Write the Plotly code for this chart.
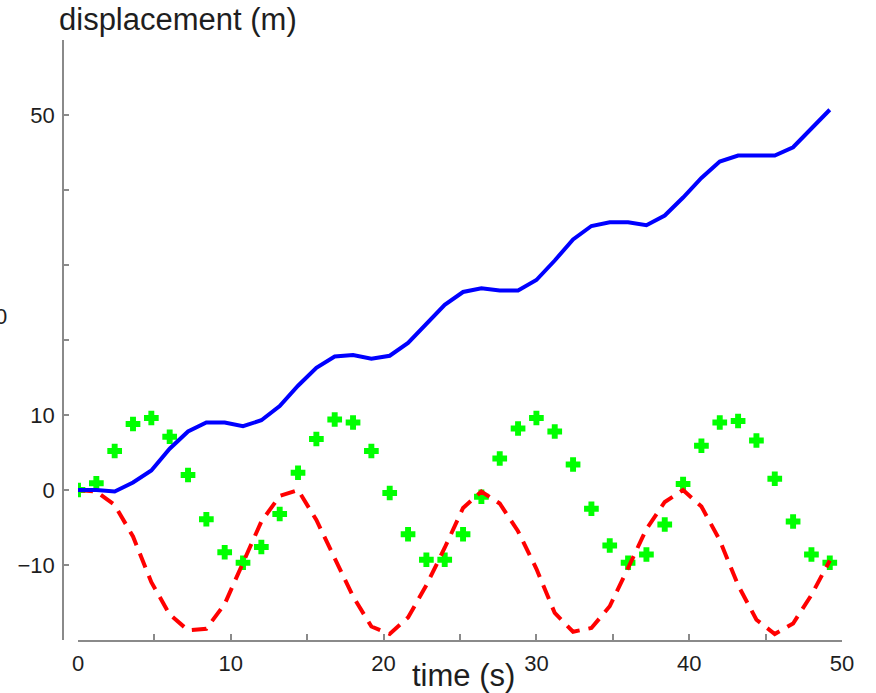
import plotly.graph_objects as go

# time samples (s)
time_s = [0.0, 1.2, 2.4, 3.6, 4.8, 6.0, 7.2, 8.4, 9.6, 10.8, 12.0, 13.2, 14.4, 15.6,
          16.8, 18.0, 19.2, 20.4, 21.6, 22.8, 24.0, 25.2, 26.4, 27.6, 28.8, 30.0,
          31.2, 32.4, 33.6, 34.8, 36.0, 37.2, 38.4, 39.6, 40.8, 42.0, 43.2, 44.4,
          45.6, 46.8, 48.0, 49.2]

# blue solid series
blue_disp = [0.0, 0.0, -0.2, 1.0, 2.6, 5.5, 7.8, 9.0, 9.0, 8.5, 9.3, 11.2, 13.9, 16.3,
             17.8, 18.0, 17.5, 17.9, 19.6, 22.2, 24.7, 26.4, 26.9, 26.6, 26.6, 28.0,
             30.6, 33.4, 35.2, 35.7, 35.7, 35.3, 36.6, 39.0, 41.6, 43.8, 44.6, 44.6,
             44.6, 45.7, 48.2, 50.7]

# red dashed series
red_disp = [0.0, -0.2, -2.0, -6.2, -12.3, -16.6, -18.7, -18.5, -15.2, -9.7, -4.2, -0.8,
            0.0, -4.0, -9.1, -14.2, -18.2, -19.2, -17.0, -12.7, -7.7, -2.4, -0.2, -1.8,
            -5.5, -10.5, -16.4, -18.9, -18.4, -15.5, -10.4, -5.2, -1.6, 0.0, -2.2, -6.7,
            -12.7, -17.3, -19.2, -17.8, -14.0, -9.4]

# green markers
green_disp = [0.0, 0.9, 5.2, 8.8, 9.6, 7.1, 2.0, -3.9, -8.3, -9.7, -7.6, -3.2, 2.3, 6.8,
              9.4, 9.0, 5.2, -0.4, -5.9, -9.3, -9.3, -5.9, -0.9, 4.2, 8.2, 9.6, 7.8, 3.4,
              -2.5, -7.4, -9.7, -8.6, -4.6, 0.8, 5.9, 9.0, 9.2, 6.6, 1.5, -4.2, -8.6, -9.7]

x_tickvals = [0, 5, 10, 15, 20, 25, 30, 35, 40, 45, 50]
x_ticktext = ["0", "", "10", "", "20", "", "30", "", "40", "", "50"]
y_tickvals = [-20, -10, 0, 10, 20, 30, 40, 50, 60]
y_ticktext = ["", "\u221210", "0", "10", "", "", "", "50", ""]

FONT = "Liberation Sans, Arial, sans-serif"
AXIS_COLOR = "#8a8a8a"
TEXT_COLOR = "#1e1e1e"

fig = go.Figure()
fig.add_trace(go.Scatter(
    x=time_s, y=green_disp, mode="markers",
    marker=dict(symbol="cross", size=11, color="#00ff00",
                line=dict(color="#00ff00", width=1.5)),
    showlegend=False))
fig.add_trace(go.Scatter(
    x=time_s, y=red_disp, mode="lines",
    line=dict(color="#ff0000", width=4, dash="15px,9px"),
    showlegend=False))
fig.add_trace(go.Scatter(
    x=time_s, y=blue_disp, mode="lines",
    line=dict(color="#0000ff", width=4),
    showlegend=False))

fig.update_layout(
    width=876, height=693,
    margin=dict(l=63, r=34, t=40, b=53),
    paper_bgcolor="white", plot_bgcolor="white",
    font=dict(family=FONT, size=22, color=TEXT_COLOR),
    xaxis=dict(
        domain=[15 / 779, 1], range=[0, 50],
        tickvals=x_tickvals, ticktext=x_ticktext,
        ticks="inside", ticklen=6, tickwidth=1.5, tickcolor=AXIS_COLOR,
        showline=True, linecolor=AXIS_COLOR, linewidth=1.5,
        showgrid=False, zeroline=False, ticklabelstandoff=3,
        tickfont=dict(size=22, color=TEXT_COLOR, family=FONT),
    ),
    yaxis=dict(
        anchor="free", position=0, range=[-20, 60],
        tickvals=y_tickvals, ticktext=y_ticktext,
        ticks="inside", ticklen=5, tickwidth=1.5, tickcolor=AXIS_COLOR,
        showline=True, linecolor=AXIS_COLOR, linewidth=1.5,
        showgrid=False, zeroline=False, ticklabelstandoff=3,
        tickfont=dict(size=22, color=TEXT_COLOR, family=FONT),
    ),
    annotations=[
        dict(text="displacement (m)", xref="paper", yref="paper",
             x=(57 - 63) / 779, y=(640 - 20) / 600, xanchor="left", yanchor="middle",
             showarrow=False, font=dict(size=31, color=TEXT_COLOR, family=FONT)),
        dict(text="time (s)", xref="paper", yref="paper",
             x=(410 - 63) / 779, y=(640 - 675) / 600, xanchor="left", yanchor="middle",
             showarrow=False, font=dict(size=31, color=TEXT_COLOR, family=FONT)),
        dict(text="0", xref="paper", yref="paper",
             x=(9 - 63) / 779, y=(640 - 316) / 600, xanchor="right", yanchor="middle",
             showarrow=False, font=dict(size=22, color=TEXT_COLOR, family=FONT)),
    ],
)

fig.write_html("out.html",
               config={"displayModeBar": False},
               post_script="document.body.style.margin='0';document.body.style.overflow='hidden';")
